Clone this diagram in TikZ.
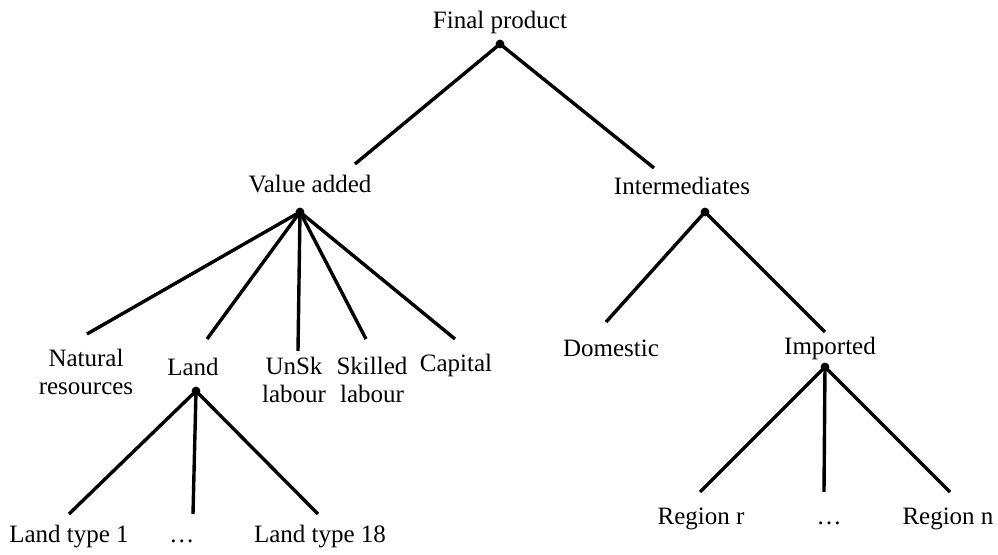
\documentclass[tikz,border=0pt]{standalone}
\usepackage{fontspec}
\setmainfont{Liberation Serif}
\usetikzlibrary{positioning}

\tikzset{
  lbl/.style={anchor=base, inner sep=0pt, align=center, font=\fontsize{12.5}{14}\selectfont},
  branch/.style={line width=1.7pt, line cap=butt},
}

\begin{document}
\begin{tikzpicture}[x=0.5pt, y=-0.5pt]
    \useasboundingbox (0,0) rectangle (998,555);
    % junctions
    \coordinate (fp) at (500,44);
    \coordinate (va) at (300,212);
    \coordinate (im) at (705,212);
    \coordinate (ld) at (196,391);
    \coordinate (ip) at (825,367);
    % free ends of the branches
    \coordinate (fp1) at (355,164);
    \coordinate (fp2) at (654,168);
    \coordinate (va1) at (87,334);
    \coordinate (va2) at (207,339);
    \coordinate (va3) at (298,351);
    \coordinate (va4) at (366,339);
    \coordinate (va5) at (455,339);
    \coordinate (im1) at (606,322);
    \coordinate (im2) at (825,332);
    \coordinate (ld1) at (69,514);
    \coordinate (ld2) at (193,514);
    \coordinate (ld3) at (318,514);
    \coordinate (ip1) at (700,492);
    \coordinate (ip2) at (824,492);
    \coordinate (ip3) at (950,492);
    % labels (two-line ones sit on their last baseline)
    \node[lbl] (tFinal) at (500,29) {Final product};
    \node[lbl] (tValue) at (310,193) {Value added};
    \node[lbl] (tInter) at (682,195) {Intermediates};
    \node[lbl] (tNatRes) at (86,395) {Natural\\resources};
    \node[lbl] (tLand) at (193,376) {Land};
    \node[lbl] (tUnSk) at (294,403) {UnSk\\labour};
    \node[lbl] (tSkill) at (372,403) {Skilled\\labour};
    \node[lbl] (tCap) at (456,372) {Capital};
    \node[lbl] (tDom) at (611,357) {Domestic};
    \node[lbl] (tImp) at (830,355) {Imported};
    \node[lbl] (tLt1) at (69,543) {Land type 1};
    \node[lbl] (tLtd) at (182,543) {\dots};
    \node[lbl] (tLt18) at (320,543) {Land type 18};
    \node[lbl] (tRr) at (701,525) {Region r};
    \node[lbl] (tRd) at (829,525) {\dots};
    \node[lbl] (tRn) at (948,525) {Region n};
    % branches
    \foreach \i in {1,2} {
    \draw[branch] (fp) -- (fp\i);
    \draw[branch] (im) -- (im\i);
    }
    \foreach \i in {1,2,3,4,5} {
    \draw[branch] (va) -- (va\i);
    }
    \foreach \i in {1,2,3} {
    \draw[branch] (ld) -- (ld\i);
    \draw[branch] (ip) -- (ip\i);
    }
    \foreach \n in {fp,va,im,ld,ip} {
    \fill (\n) circle (2.2pt);
    }
\end{tikzpicture}
\end{document}
